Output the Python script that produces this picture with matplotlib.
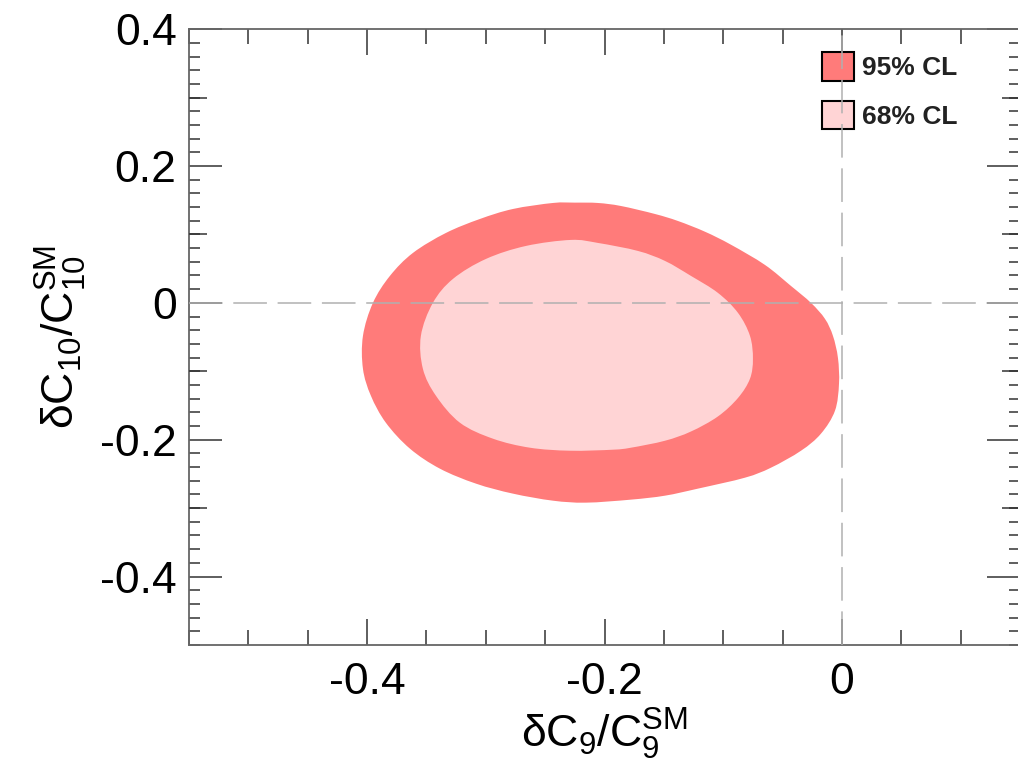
import matplotlib
matplotlib.use("Agg")
import matplotlib.pyplot as plt
import numpy as np
from matplotlib.patches import Patch, PathPatch
from matplotlib.path import Path
from matplotlib.ticker import MultipleLocator, FixedLocator, NullFormatter

plt.rcParams['font.family'] = ['Liberation Sans', 'DejaVu Sans']
plt.rcParams['mathtext.fontset'] = 'custom'
plt.rcParams['mathtext.rm'] = 'Liberation Sans'
plt.rcParams['mathtext.it'] = 'Liberation Sans'

# 95% CL contour, dC9/C9SM vs dC10/C10SM
x95 = [-0.2435, -0.2772, -0.3050, -0.3336, -0.3614, -0.3808, -0.3951, -0.4035, -0.4035,
       -0.3968, -0.3842, -0.3639, -0.3387, -0.3083, -0.2772, -0.2435, -0.2157, -0.1778,
       -0.1491, -0.1213, -0.0817, -0.0598, -0.0345, -0.0177, -0.0059, -0.0025, -0.0034,
       -0.0076, -0.0143, -0.0261, -0.0430, -0.0649, -0.0935, -0.1154, -0.1382, -0.1575,
       -0.1862, -0.2056, -0.2250]
y95 = [0.1460, 0.1372, 0.1226, 0.1022, 0.0730, 0.0394, 0.0, -0.0482, -0.0964,
       -0.1358, -0.1752, -0.2131, -0.2423, -0.2642, -0.2788, -0.2891, -0.2920, -0.2876,
       -0.2818, -0.2715, -0.2555, -0.2409, -0.2161, -0.1912, -0.1577, -0.1182, -0.0803,
       -0.0482, -0.0234, 0.0, 0.0248, 0.0555, 0.0850, 0.1040, 0.1197, 0.1299,
       0.1416, 0.1460, 0.1465]

# 68% CL contour
x68 = [-0.2283, -0.2662, -0.2999, -0.3277, -0.3446, -0.3547, -0.3530, -0.3420, -0.3218,
       -0.2940, -0.2628, -0.2291, -0.1929, -0.1778, -0.1491, -0.1272, -0.1045, -0.0876,
       -0.0775, -0.0750, -0.0775, -0.0876, -0.1045, -0.1272, -0.1491, -0.1719, -0.2056]
y68 = [0.0920, 0.0832, 0.0642, 0.0350, 0.0, -0.0482, -0.0964, -0.1358, -0.1752,
       -0.1985, -0.2117, -0.2161, -0.2146, -0.2117, -0.2015, -0.1880, -0.1660, -0.1390,
       -0.1109, -0.0818, -0.0482, -0.0146, 0.0146, 0.0394, 0.0613, 0.0759, 0.0876]

labels = ['95% CL', '68% CL']
colors = ['#ff7b7a', '#ffd4d5']


def smooth_closed_path(xs, ys):
    # closed curve through the read points (Catmull-Rom as cubic Bezier pieces)
    p = np.column_stack([xs, ys])
    n = len(p)
    verts = [p[0]]
    codes = [Path.MOVETO]
    for i in range(n):
        p0, p1, p2, p3 = p[i - 1], p[i], p[(i + 1) % n], p[(i + 2) % n]
        verts += [p1 + (p2 - p0) / 6, p2 - (p3 - p1) / 6, p2]
        codes += [Path.CURVE4] * 3
    verts.append(p[0])
    codes.append(Path.CLOSEPOLY)
    return Path(verts, codes)


fig = plt.figure(figsize=(10.18, 7.64), dpi=100)
ax = fig.add_axes([0.1857, 0.1558, 0.8163, 0.806])

ax.add_patch(PathPatch(smooth_closed_path(x95, y95), facecolor=colors[0], lw=0, zorder=2))
ax.add_patch(PathPatch(smooth_closed_path(x68, y68), facecolor=colors[1], lw=0, zorder=3))

ax.axhline(0, color='#b0b0b0', lw=1.1, ls=(0, (22, 7)), zorder=8)
ax.axvline(0, color='#b0b0b0', lw=1.1, ls=(0, (22, 7)), zorder=8)

ax.set_xlim(-0.55, 0.15)
ax.set_ylim(-0.5, 0.4)

ax.xaxis.set_major_locator(MultipleLocator(0.2))
ax.xaxis.set_minor_locator(MultipleLocator(0.05))
ax.yaxis.set_major_locator(MultipleLocator(0.2))
ax.yaxis.set_minor_locator(MultipleLocator(0.02))
fmt = plt.FuncFormatter(lambda v, p: '0' if abs(v) < 1e-9 else f'{v:g}')
ax.xaxis.set_major_formatter(fmt)
ax.yaxis.set_major_formatter(fmt)

ax.tick_params(which='both', direction='in', top=True, right=True, color='#333333', width=1.1)
ax.tick_params(which='major', length=24, labelsize=32, pad=9)
ax.tick_params(which='minor', length=8)
ax.tick_params(axis='x', which='major', length=19, pad=12)
ax.tick_params(axis='x', which='minor', length=11)
for s in ax.spines.values():
    s.set_color('#666666')
    s.set_linewidth(1.3)

# medium ticks at the odd tenths on the y axis
ax2 = fig.add_axes(ax.get_position(), frameon=False)
ax2.set_xlim(ax.get_xlim())
ax2.set_ylim(ax.get_ylim())
ax2.set_xticks([])
ax2.yaxis.set_major_locator(FixedLocator([-0.3, -0.1, 0.1, 0.3]))
ax2.yaxis.set_major_formatter(NullFormatter())
ax2.tick_params(axis='y', direction='in', left=True, right=True, length=13,
                color='#333333', width=1.1)
ax2.patch.set_visible(False)

ax.set_xlabel('δC$_9$/C$_9^{\\rm SM}$', fontsize=32, labelpad=3)
ax.set_ylabel('δC$_{10}$/C$_{10}^{\\rm SM}$', fontsize=32, labelpad=8)

handles = [Patch(facecolor=c, edgecolor='black', lw=1.5) for c in colors]
leg = ax.legend(handles, labels, loc='upper left', bbox_to_anchor=(0.762, 0.963),
                frameon=False, borderpad=0, borderaxespad=0, handlelength=1.2,
                handleheight=1.3, handletextpad=0.3, labelspacing=0.75,
                prop={'size': 19, 'weight': 'bold'})
for t in leg.get_texts():
    t.set_color('#222222')
leg.set_zorder(5)

fig.savefig('out.png', dpi=100)
